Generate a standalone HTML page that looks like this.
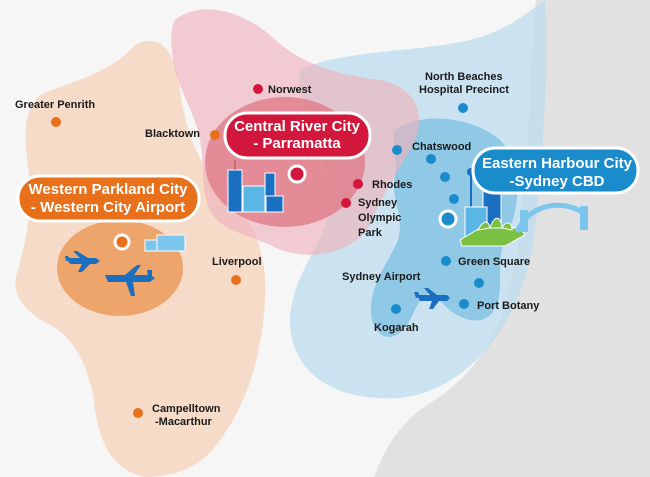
<!DOCTYPE html>
<html><head><meta charset="utf-8"><style>
html,body{margin:0;padding:0;width:650px;height:477px;overflow:hidden;background:#f5f5f5}
svg{display:block}
text{font-family:"Liberation Sans",sans-serif;font-weight:bold}
.l{font-size:11px;fill:#1a1a1a}
.p{font-size:15px;fill:#fff}
</style></head><body>
<svg width="650" height="477" viewBox="0 0 650 477" xmlns="http://www.w3.org/2000/svg">
<rect width="650" height="477" fill="#f6f6f6"/>
<!-- sea -->
<path d="M536,0 L650,0 L650,477 L374,477 C385,450 395,430 420,410 C450,390 480,370 500,320 C515,280 520,240 522,200 C528,150 530,100 532,60 Z" fill="#e1e1e1"/>
<!-- light blue -->
<path d="M300,70 C340,50 420,52 470,40 C510,30 530,10 545,0 C548,60 545,140 535,230 C525,320 470,390 400,398 C330,402 290,370 290,320 C292,270 330,240 330,200 C330,150 295,110 300,70 Z" fill="#bcdcee" opacity="0.75"/>
<!-- dark blue -->
<path d="M395,130 C420,112 470,115 500,140 C525,165 520,210 505,240 C495,262 505,290 495,308 C485,330 455,320 440,300 C425,285 420,300 410,320 C400,340 380,345 372,320 C365,290 390,260 398,240 C405,215 390,200 395,175 C398,155 390,140 395,130 Z" fill="#7cc0e2" opacity="0.75"/>
<!-- orange blob -->
<path d="M40,95 C60,85 110,75 135,45 C160,32 175,50 180,90 C185,130 200,170 225,190 C250,215 268,250 265,300 C262,350 250,400 220,440 C200,470 170,477 145,477 C110,470 100,440 95,410 C92,380 80,340 50,325 C20,310 10,290 18,270 C25,245 30,220 30,190 C30,160 15,120 40,95 Z" fill="#f6d6bf" opacity="0.85"/>
<!-- dark orange -->
<ellipse cx="120" cy="268" rx="63" ry="48" fill="#eea56c"/>
<!-- pink blob -->
<path d="M175,20 C200,0 240,10 270,35 C300,65 340,75 380,80 C420,88 428,120 410,150 C395,175 380,200 370,225 C350,258 300,262 270,245 C240,232 220,230 210,210 C200,190 205,165 200,140 C195,110 172,80 172,50 C170,35 172,25 175,20 Z" fill="#eeb4bd" opacity="0.65"/>
<ellipse cx="285" cy="162" rx="80" ry="65" fill="#e07a88" opacity="0.8"/>

<!-- buildings parramatta -->
<g stroke="#fff" stroke-width="1">
<rect x="228" y="170" width="14" height="42" fill="#1a6fc0"/>
<rect x="243" y="186" width="22" height="26" fill="#5ab6e5"/>
<rect x="265" y="173" width="10" height="39" fill="#1a6fc0"/>
<rect x="266" y="196" width="17" height="16" fill="#1a6fc0"/>
</g>
<line x1="235" y1="160" x2="235" y2="170" stroke="#a55" stroke-width="1"/>
<!-- planes -->
<g fill="#1a6fc0">
<path d="M66,258 L96,258 L100,261 L96,264 L70,264 Z"/><path d="M80,258 L73,251 L77,251 L88,258 Z"/><path d="M82,264 L78,272 L82,272 L90,264Z"/><path d="M65,256 L68,256 L71,260 L66,261Z"/>
<path d="M105,275 L150,275 L155,278 L150,282 L108,282 Z"/><path d="M125,275 L137,265 L141,265 L134,275Z"/><path d="M126,282 L131,296 L135,296 L133,282Z"/><path d="M147,270 L152,270 L152,276 L148,276Z"/>
<path d="M417,295 L447,295 L450,298 L447,301 L420,301Z"/><path d="M430,295 L424,288 L428,288 L437,295Z"/><path d="M432,301 L429,309 L433,309 L439,301Z"/><path d="M414,292 L418,292 L420,297 L416,298Z"/>
</g>
<!-- western buildings -->
<rect x="145" y="240" width="14" height="11" fill="#7cc6ec" stroke="#fff"/>
<rect x="157" y="235" width="28" height="16" fill="#7cc6ec" stroke="#fff"/>
<!-- CBD buildings -->
<line x1="471" y1="170" x2="471" y2="215" stroke="#1a6fc0" stroke-width="2"/>
<circle cx="471" cy="172" r="4" fill="#1a6fc0"/>
<rect x="483" y="181" width="18" height="60" fill="#1a6fc0" stroke="#fff"/>
<rect x="465" y="207" width="22" height="34" fill="#5ab6e5" stroke="#fff"/>
<path d="M460,240 L480,228 L520,228 L525,235 L505,246 L462,246Z" fill="#7ac143" stroke="#fff"/>
<path d="M478,230 C482,222 488,218 490,228Z M490,228 C494,216 500,214 502,228Z M502,228 C506,220 512,222 512,230Z" fill="#7ac143" stroke="#fff"/>
<path d="M517,232 C530,200 570,200 585,215" fill="none" stroke="#7cc6ec" stroke-width="5"/>
<rect x="520" y="210" width="8" height="22" fill="#7cc6ec"/><rect x="580" y="206" width="8" height="24" fill="#7cc6ec"/>

<!-- pills -->
<rect x="225" y="113" width="145" height="45" rx="22" fill="#d3163b" stroke="#fff" stroke-width="3"/>
<text class="p" x="297" y="131" text-anchor="middle">Central River City</text>
<text class="p" x="297" y="148" text-anchor="middle">- Parramatta</text>
<rect x="18" y="176" width="181" height="45" rx="22" fill="#e8701a" stroke="#fff" stroke-width="3"/>
<text class="p" x="108" y="194" text-anchor="middle">Western Parkland City</text>
<text class="p" x="108" y="212" text-anchor="middle">- Western City Airport</text>
<rect x="473" y="148" width="165" height="45" rx="22" fill="#1a8ccc" stroke="#fff" stroke-width="3"/>
<text class="p" x="557" y="168" text-anchor="middle">Eastern Harbour City</text>
<text class="p" x="557" y="186" text-anchor="middle">-Sydney CBD</text>

<!-- dots -->
<g fill="#e8701a"><circle cx="56" cy="122" r="5"/><circle cx="215" cy="135" r="5"/><circle cx="236" cy="280" r="5"/><circle cx="138" cy="413" r="5"/></g>
<circle cx="122" cy="242" r="7" fill="#e8701a" stroke="#fff" stroke-width="3"/>
<g fill="#d3163b"><circle cx="258" cy="89" r="5"/><circle cx="358" cy="184" r="5"/><circle cx="346" cy="203" r="5"/></g>
<circle cx="297" cy="174" r="8" fill="#d3163b" stroke="#fff" stroke-width="3"/>
<g fill="#1a8ccc"><circle cx="463" cy="108" r="5"/><circle cx="397" cy="150" r="5"/><circle cx="431" cy="159" r="5"/><circle cx="445" cy="177" r="5"/><circle cx="454" cy="199" r="5"/><circle cx="446" cy="261" r="5"/><circle cx="479" cy="283" r="5"/><circle cx="464" cy="304" r="5"/><circle cx="396" cy="309" r="5"/></g>
<circle cx="448" cy="219" r="8" fill="#1a8ccc" stroke="#fff" stroke-width="3"/>

<!-- labels -->
<text class="l" x="268" y="93">Norwest</text>
<text class="l" x="15" y="108">Greater Penrith</text>
<text class="l" x="145" y="137">Blacktown</text>
<text class="l" x="372" y="188">Rhodes</text>
<text class="l" x="358" y="206">Sydney</text>
<text class="l" x="358" y="221">Olympic</text>
<text class="l" x="358" y="236">Park</text>
<text class="l" x="212" y="265">Liverpool</text>
<text class="l" x="152" y="412">Campelltown</text>
<text class="l" x="155" y="425">-Macarthur</text>
<text class="l" x="425" y="80">North Beaches</text>
<text class="l" x="419" y="93">Hospital Precinct</text>
<text class="l" x="412" y="150">Chatswood</text>
<text class="l" x="458" y="265">Green Square</text>
<text class="l" x="342" y="280">Sydney Airport</text>
<text class="l" x="477" y="309">Port Botany</text>
<text class="l" x="374" y="331">Kogarah</text>
</svg>
</body></html>
